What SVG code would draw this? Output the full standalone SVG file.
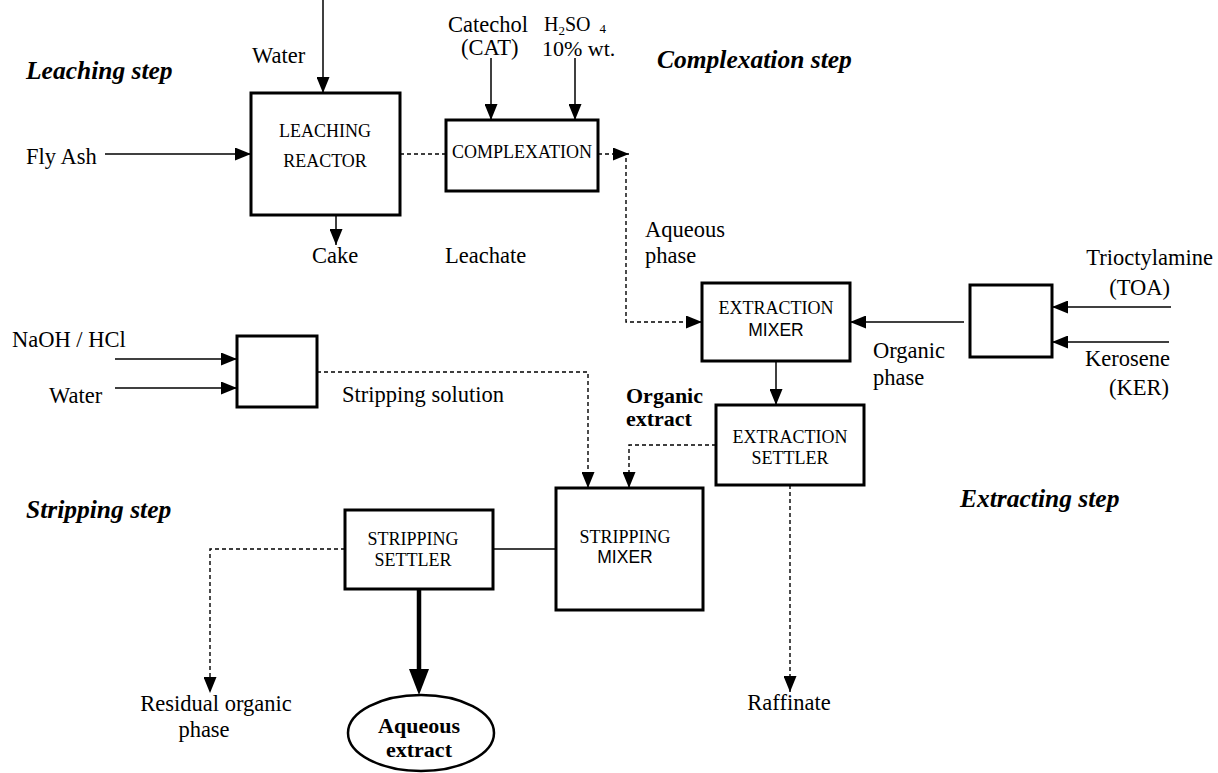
<svg xmlns="http://www.w3.org/2000/svg" width="1218" height="773" viewBox="0 0 1218 773">
<style>
.box{fill:#fff;stroke:#000;stroke-width:3}
.t{font-family:"Liberation Serif","Times New Roman",serif;font-size:22.5px;fill:#000}
.bl{font-family:"Liberation Serif","Times New Roman",serif;font-size:18px;fill:#000}
.bs{font-family:"Liberation Sans",Arial,sans-serif;font-size:17.5px;fill:#000}
.h{font-family:"Liberation Serif","Times New Roman",serif;font-size:25.5px;font-weight:bold;font-style:italic;fill:#000}
.b{font-family:"Liberation Serif","Times New Roman",serif;font-size:22px;font-weight:bold;fill:#000}
.s{fill:none;stroke:#000;stroke-width:1.5}
.d{fill:none;stroke:#000;stroke-width:1.4;stroke-dasharray:4 3}
.k{fill:none;stroke:#000;stroke-width:4.5}
</style>
<defs>
<marker id="a" markerUnits="userSpaceOnUse" markerWidth="16" markerHeight="13" refX="16" refY="6.5" orient="auto">
<path d="M0,0 L16,6.5 L0,13 z" fill="#000"/>
</marker>
<marker id="ak" markerUnits="userSpaceOnUse" markerWidth="26" markerHeight="20" refX="6" refY="10" orient="auto">
<path d="M0,0 L26,10 L0,20 z" fill="#000"/>
</marker>
</defs>

<g id="headings">
<text class="h" x="26" y="79">Leaching step</text>
<text class="h" x="657" y="68">Complexation step</text>
<text class="h" x="26" y="518">Stripping step</text>
<text class="h" x="960" y="507">Extracting step</text>
</g>

<g id="connectors">
<path class="s" d="M323,0 V93" marker-end="url(#a)"/>
<path class="s" d="M105,154 H251" marker-end="url(#a)"/>
<path class="s" d="M336,215 V245" marker-end="url(#a)"/>
<path class="s" d="M491,58 V120" marker-end="url(#a)"/>
<path class="s" d="M575,58 V120" marker-end="url(#a)"/>
<path class="d" d="M400,154 H446"/>
<path class="d" d="M598,154 H629" marker-end="url(#a)"/>
<path class="d" d="M626,158 V322 H702" marker-end="url(#a)"/>
<path class="s" d="M964,322 H850" marker-end="url(#a)"/>
<path class="s" d="M1171,307 H1052" marker-end="url(#a)"/>
<path class="s" d="M1169,342 H1052" marker-end="url(#a)"/>
<path class="s" d="M776,361 V405" marker-end="url(#a)"/>
<path class="s" d="M115,359 H237" marker-end="url(#a)"/>
<path class="s" d="M115,388 H237" marker-end="url(#a)"/>
<path class="d" d="M317,372 H588 V488" marker-end="url(#a)"/>
<path class="d" d="M716,445 H629 V488" marker-end="url(#a)"/>
<path class="d" d="M790,485 V692" marker-end="url(#a)"/>
<path class="s" d="M493,549 H556"/>
<path class="d" d="M345,549 H210 V693" marker-end="url(#a)"/>
<path class="k" d="M419,589 V675" marker-end="url(#ak)"/>
</g>

<g id="labels">
<text class="t" x="252" y="63">Water</text>
<text class="t" x="26" y="164">Fly Ash</text>
<text class="t" x="312" y="263">Cake</text>
<text class="t" x="445" y="263">Leachate</text>
<text class="t" x="448" y="32">Catechol</text>
<text class="t" x="461" y="55">(CAT)</text>
<text class="t" x="544" y="31" style="font-size:20px">H<tspan style="font-size:13px" dy="4">2</tspan><tspan dy="-4">SO</tspan><tspan style="font-size:13px" dx="9" dy="2">4</tspan></text>
<text class="t" x="542" y="56" style="font-size:22px">10% wt.</text>
<text class="t" x="645" y="237">Aqueous</text>
<text class="t" x="645" y="263">phase</text>
<text class="t" x="1213" y="265" text-anchor="end">Trioctylamine</text>
<text class="t" x="1170" y="295" text-anchor="end">(TOA)</text>
<text class="t" x="1170" y="366" text-anchor="end">Kerosene</text>
<text class="t" x="1169" y="395" text-anchor="end">(KER)</text>
<text class="t" x="873" y="358">Organic</text>
<text class="t" x="873" y="385">phase</text>
<text class="t" x="12" y="347">NaOH / HCl</text>
<text class="t" x="49" y="403">Water</text>
<text class="t" x="342" y="402">Stripping solution</text>
<text class="b" x="626" y="403">Organic</text>
<text class="b" x="626" y="426">extract</text>
<text class="t" x="789" y="710" text-anchor="middle">Raffinate</text>
<text class="t" x="216" y="711" text-anchor="middle">Residual organic</text>
<text class="t" x="204" y="737" text-anchor="middle">phase</text>
</g>

<g id="leaching-reactor">
<rect class="box" x="251" y="93" width="149" height="122"/>
<text class="bl" x="325" y="137" text-anchor="middle">LEACHING</text>
<text class="bl" x="325" y="167" text-anchor="middle">REACTOR</text>
</g>

<g id="complexation">
<rect class="box" x="446" y="120" width="152" height="71"/>
<text class="bl" x="522" y="158" text-anchor="middle">COMPLEXATION</text>
</g>

<g id="extraction-mixer">
<rect class="box" x="702" y="283" width="148" height="78"/>
<text class="bl" x="776" y="314" text-anchor="middle">EXTRACTION</text>
<text class="bs" x="776" y="336" text-anchor="middle">MIXER</text>
</g>

<g id="organic-mix-tank">
<rect class="box" x="970" y="285" width="82" height="72"/>
</g>

<g id="extraction-settler">
<rect class="box" x="716" y="405" width="148" height="80"/>
<text class="bl" x="790" y="443" text-anchor="middle">EXTRACTION</text>
<text class="bl" x="790" y="464" text-anchor="middle">SETTLER</text>
</g>

<g id="stripping-solution-tank">
<rect class="box" x="237" y="336" width="80" height="71"/>
</g>

<g id="stripping-mixer">
<rect class="box" x="556" y="488" width="147" height="122"/>
<text class="bl" x="625" y="543" text-anchor="middle">STRIPPING</text>
<text class="bs" x="625" y="563" text-anchor="middle">MIXER</text>
</g>

<g id="stripping-settler">
<rect class="box" x="345" y="510" width="148" height="79"/>
<text class="bl" x="413" y="545" text-anchor="middle">STRIPPING</text>
<text class="bl" x="413" y="566" text-anchor="middle">SETTLER</text>
</g>

<g id="aqueous-extract">
<ellipse cx="421" cy="733" rx="73" ry="38" fill="#fff" stroke="#000" stroke-width="2.5"/>
<text class="b" x="419" y="733" text-anchor="middle">Aqueous</text>
<text class="b" x="419" y="757" text-anchor="middle">extract</text>
</g>
</svg>
